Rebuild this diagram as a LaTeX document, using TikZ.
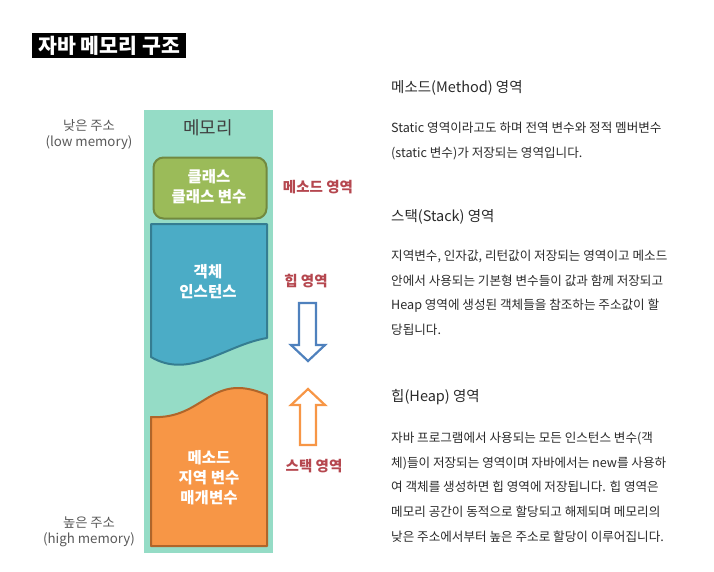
\documentclass[tikz,border=0pt]{standalone}
\usepackage{fontspec}
\setmainfont{Noto Sans CJK KR}
\newfontfamily\kr{Noto Sans CJK KR}
\definecolor{memteal}{HTML}{95DCC6}
\definecolor{grfill}{HTML}{9BBB59}
\definecolor{grline}{HTML}{72893F}
\definecolor{blfill}{HTML}{4BACC6}
\definecolor{blline}{HTML}{357D91}
\definecolor{orfill}{HTML}{F79646}
\definecolor{orline}{HTML}{B0652A}
\definecolor{areared}{HTML}{B5474F}
\definecolor{arrblue}{HTML}{4F81BD}
\definecolor{greytxt}{HTML}{595959}
\definecolor{bodytxt}{HTML}{2A2A2A}
\tikzset{
  inner/.style={text=white, font=\kr\bfseries\fontsize{15.5}{20}\selectfont, align=center},
  arealbl/.style={text=areared, font=\kr\bfseries\fontsize{14.5}{16}\selectfont},
  addr/.style={text=greytxt, font=\kr\fontsize{13.3}{16}\selectfont, align=center},
  head/.style={text=bodytxt, font=\kr\fontsize{14.5}{18}\selectfont, anchor=north west, inner sep=0pt},
  body/.style={text=bodytxt, font=\kr\fontsize{12.6}{24.6}\selectfont, anchor=north west, align=left, inner sep=0pt},
}
\begin{document}
\begin{tikzpicture}[x=1pt,y=-1pt]
\useasboundingbox (0,0) rectangle (714,571);
% title
\node[fill=black, text=white, font=\kr\bfseries\fontsize{20.5}{22}\selectfont, minimum width=154pt, minimum height=25pt, inner sep=0pt, anchor=north west] (title) at (32,33) {자바 메모리 구조};
% memory column
\node[fill=memteal, minimum width=129pt, minimum height=443pt, inner sep=0pt, anchor=north west] (mem) at (144,110) {};
\node[text=black!75, font=\kr\fontsize{18}{20}\selectfont] (memlbl) at (208,128) {메모리};
% class box
\node[fill=grfill, draw=grline, line width=2pt, rounded corners=10pt, minimum width=113pt, minimum height=61pt, anchor=north west] (cls) at (152.5,156.5) {};
\node[inner] (clstxt) at (209,187) {클래스\\클래스 변수};
% heap shape
\draw[fill=blfill, draw=blline, line width=2pt, line join=round] (151,224) -- (267,224) -- (267,338)
  .. controls (225,345) and (190,380) .. (151,357) -- cycle;
\node[inner] (objtxt) at (208,282) {객체\\인스턴스};
% stack shape
\draw[fill=orfill, draw=orline, line width=2pt, line join=round] (151,417)
  .. controls (205,420) and (210,370) .. (267,395) -- (267,546) -- (151,546) -- cycle;
\node[inner] (stktxt) at (209,478) {메소드\\지역 변수\\매개변수};
% area labels
\node[arealbl] (mlbl) at (318,187) {메소드 영역};
\node[arealbl] (hlbl) at (306,281) {힙 영역};
\node[arealbl] (slbl) at (314,466) {스택 영역};
% arrows
\draw[draw=arrblue, fill=white, line width=2.2pt, line join=miter] (299,303) -- (316,303) -- (316,345) -- (325,345) -- (308,361) -- (291,345) -- (299,345) -- cycle;
\draw[draw=orfill, fill=white, line width=2.2pt, line join=miter] (300,445) -- (316,445) -- (316,405) -- (325,405) -- (308,389) -- (291,405) -- (300,405) -- cycle;
% addresses
\node[addr] (low) at (89,135) {낮은 주소\\(low memory)};
\node[addr] (high) at (89,532) {높은 주소\\(high memory)};
% right texts
\node[head] (h1) at (391,80) {메소드(Method) 영역};
\node[body] (b1) at (391,122) {Static 영역이라고도 하며 전역 변수와 정적 멤버변수\\(static 변수)가 저장되는 영역입니다.};
\node[head] (h2) at (391,209) {스택(Stack) 영역};
\node[body] (b2) at (391,250) {지역변수, 인자값, 리턴값이 저장되는 영역이고 메소드\\안에서 사용되는 기본형 변수들이 값과 함께 저장되고\\Heap 영역에 생성된 객체들을 참조하는 주소값이 할\\당됩니다.};
\node[head] (h3) at (391,389) {힙(Heap) 영역};
\node[body] (b3) at (391,432) {자바 프로그램에서 사용되는 모든 인스턴스 변수(객\\체)들이 저장되는 영역이며 자바에서는 new를 사용하\\여 객체를 생성하면 힙 영역에 저장됩니다. 힙 영역은\\메모리 공간이 동적으로 할당되고 해제되며 메모리의\\낮은 주소에서부터 높은 주소로 할당이 이루어집니다.};
\end{tikzpicture}
\end{document}
